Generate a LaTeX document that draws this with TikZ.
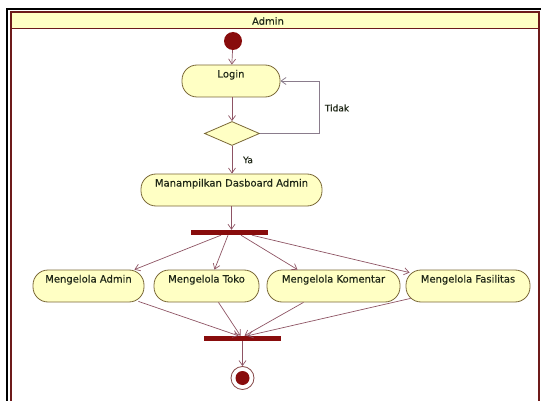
\documentclass[tikz,border=0pt]{standalone}
\usepackage{fontspec}
\setmainfont{DejaVu Sans}
\newfontfamily\diafont{DejaVu Sans}[FakeBold=0.35]
\usetikzlibrary{arrows.meta,shapes.geometric}
\definecolor{nodefill}{HTML}{FFFFC4}
\definecolor{nodeedge}{HTML}{7A6838}
\definecolor{darkbar}{HTML}{880C0C}
\definecolor{framecol}{HTML}{6E1A1A}
\definecolor{arrowcol}{HTML}{8E5464}
\definecolor{loopcol}{HTML}{8A7C8C}
\definecolor{txtcol}{HTML}{202818}
\begin{document}
\begin{tikzpicture}[x=1pt,y=-1pt,
  every node/.style={font=\diafont\fontsize{10}{12}\selectfont, text=txtcol},
  actbox/.style={draw=nodeedge, line width=0.8pt, fill=nodefill, rectangle, rounded corners=15pt,
     text height=8pt, text depth=15pt, inner ysep=4.5pt, inner xsep=0pt, minimum height=32pt},
  decbox/.style={draw=nodeedge, line width=0.8pt, fill=nodefill, diamond, inner sep=0pt,
     minimum width=55pt, minimum height=24pt},
  barbox/.style={fill=darkbar, draw=none, rectangle, inner sep=0pt, minimum width=77pt, minimum height=5pt},
  flow/.style={draw=arrowcol, line width=0.7pt, -{Straight Barb[length=5pt,width=7pt]}},
  loopflow/.style={draw=loopcol, line width=0.8pt, -{Straight Barb[length=5pt,width=7pt]}},
  lbl/.style={font=\diafont\fontsize{9}{11}\selectfont, text=txtcol, inner sep=0pt}
]
\useasboundingbox (0,0) rectangle (541,401);
% frames
\draw[black, line width=2pt] (6.5,420) -- (6.5,9.5) -- (545,9.5);
\fill[nodefill] (11,12) rectangle (539,28.5);
\draw[framecol, line width=1.6pt] (10.8,420) -- (10.8,12) -- (539.2,12) -- (539.2,420);
\draw[framecol, line width=1.2pt] (11,28.8) -- (539,28.8);
\node (hdr) at (268,21) {Admin};
% nodes
\node[circle, fill=darkbar, inner sep=0pt, minimum size=18pt] (init) at (233,41) {};
\node[actbox, minimum width=98pt] (login) at (231,81) {Login};
\node[decbox] (dec) at (232,133.5) {};
\coordinate (loopx) at (319,0);
\node[actbox, minimum width=181pt] (dash) at (231.5,190) {Manampilkan Dasboard Admin};
\node[barbox] (fork) at (229,232.5) {};
\node[actbox, minimum width=111pt] (admin) at (88.5,286) {Mengelola Admin};
\node[actbox, minimum width=105pt] (toko) at (206.5,286) {Mengelola Toko};
\node[actbox, minimum width=133pt] (kom) at (333.5,286) {Mengelola Komentar};
\node[actbox, minimum width=124pt] (fas) at (468,286) {Mengelola Fasilitas};
\node[barbox] (join) at (242.5,338.5) {};
\node[circle, draw=darkbar!50!gray, line width=0.8pt, fill=white, inner sep=0pt, minimum size=23pt] (final) at (242.5,378) {};
\node[circle, fill=darkbar, inner sep=0pt, minimum size=14pt] (finalin) at (final.center) {};
% labels
\node[lbl] (tidak) at (337,108) {Tidak};
\node[lbl] (ya) at (248,160) {Ya};
% connectors
\draw[flow] (init) -- (login);
\draw[flow] (login.south -| dec.north) -- (dec.north);
\draw[loopflow] (dec.east) -- (dec.east -| loopx) |- (login.east);
\draw[flow] (dec.south) -- (dec.south |- dash.north);
\draw[flow] (dash.south) -- (fork.north -| dash.south);
\draw[flow] ([xshift=-8pt]fork.south) -- ([xshift=-10pt]admin.north east);
\draw[flow] ([xshift=-1pt]fork.south) -- ([xshift=8pt]toko.north);
\draw[flow] ([xshift=12pt]fork.south) -- ([xshift=-36pt]kom.north);
\draw[flow] ([xshift=23pt]fork.south) -- ([xshift=4pt,yshift=-3pt]fas.north west);
\draw[flow] ([xshift=-6pt,yshift=1pt]admin.south east) -- ([xshift=-4pt]join.north);
\draw[flow] ([xshift=12pt]toko.south) -- ([xshift=-2pt]join.north);
\draw[flow] ([xshift=-30pt]kom.south) -- ([xshift=2pt]join.north);
\draw[flow] ([xshift=5pt,yshift=4pt]fas.south west) -- ([xshift=5pt]join.north);
\draw[flow] (join.south) -- (final.north);
\end{tikzpicture}
\end{document}
